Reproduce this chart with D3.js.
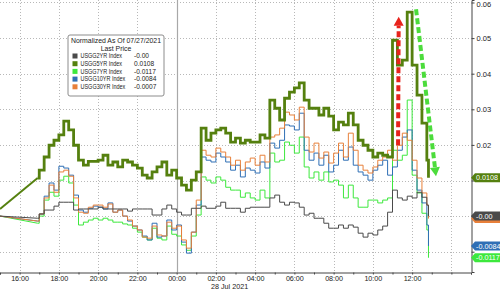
<!DOCTYPE html>
<html>
<head>
<meta charset="utf-8">
<script src="https://cdn.jsdelivr.net/npm/d3@7"></script>
<style>
  body { margin: 0; background: #fff; }
  svg { display: block; font-family: "Liberation Sans", Arial, sans-serif; }
</style>
</head>
<body>
<div id="chart"></div>
<script>
// gap-filled start, then 15 min bars 17:00 -> 12:45, then last print
const gapTimes = ["2021-07-27 15:00", "2021-07-27 16:55"];
const lastTime = "2021-07-28 12:50";

const seriesNames = ["USGG2YR Index", "USGG5YR Index", "USGG7YR Index", "USGG10YR Index", "USGG30YR Index"];
const lastLabels = ["-0.00", "0.0108", "-0.0117", "-0.0084", "-0.0007"];
const seriesColors = ["#4a4a4a", "#55800f", "#3de83d", "#2f6fb5", "#e8803a"];

const usgg2yr = [0, -0.0006,
  0.0006, 0.0017, 0.0017, 0.0028, 0.0039, 0.0039, 0.0039, 0.0017,
  0.0020, 0.0020, 0.0020, 0.0020, 0.0025, 0.0020, 0.0020, 0.0020,
  0.0020, 0.0020, 0.0014, 0.0020, 0.0020, 0.0020, 0.0020, 0.0003,
  0.0003, 0.0020, 0.0031, 0.0020, 0.0011, 0.0003, 0.0003, 0.0022,
  0.0022, 0.0028, 0.0022, 0.0022, 0.0028, 0.0039, 0.0022, 0.0022,
  0.0022, 0.0011, 0.0022, 0.0025, 0.0025, 0.0025, 0.0025, 0.0051,
  0.0059, 0.0039, 0.0031, 0.0039, 0.0037, 0.0025, 0.0003, 0.0008,
  -0.0006, -0.0006, -0.0020, -0.0034, -0.0034, -0.0025, -0.0034, -0.0025,
  -0.0031, -0.0048, -0.0059, -0.0048, -0.0053, -0.0039, -0.0028, 0.0011,
  0.0073, 0.0051, 0.0045, 0.0056, 0.0051, 0.0067, 0.0053, 0.0031,
  0.0000];

const usgg5yr = [0.0020, 0.0107,
  0.0129, 0.0166, 0.0199, 0.0213, 0.0228, 0.0267, 0.0242, 0.0199,
  0.0157, 0.0143, 0.0154, 0.0154, 0.0157, 0.0171, 0.0143, 0.0152,
  0.0138, 0.0157, 0.0152, 0.0143, 0.0135, 0.0115, 0.0107, 0.0124,
  0.0138, 0.0152, 0.0115, 0.0129, 0.0107, 0.0087, 0.0073, 0.0101,
  0.0124, 0.0247, 0.0213, 0.0233, 0.0242, 0.0247, 0.0233, 0.0208,
  0.0219, 0.0205, 0.0213, 0.0208, 0.0208, 0.0228, 0.0219, 0.0326,
  0.0303, 0.0270, 0.0331, 0.0348, 0.0360, 0.0374, 0.0326, 0.0303,
  0.0303, 0.0284, 0.0303, 0.0281, 0.0242, 0.0264, 0.0256, 0.0289,
  0.0256, 0.0213, 0.0199, 0.0185, 0.0166, 0.0177, 0.0171, 0.0166,
  0.0494, 0.0424, 0.0438, 0.0573, 0.0424, 0.0340, 0.0261, 0.0157,
  0.0108];

const usgg7yr = [0, -0.0020,
  0.0000, 0.0045, 0.0067, 0.0056, 0.0101, 0.0112, 0.0093, 0.0031,
  -0.0025, -0.0017, -0.0011, -0.0006, -0.0011, -0.0006, -0.0011, -0.0017,
  -0.0017, -0.0022, -0.0025, -0.0034, -0.0045, -0.0059, -0.0067, -0.0034,
  -0.0062, -0.0067, -0.0028, -0.0051, -0.0056, -0.0081, -0.0096, -0.0056,
  0.0003, 0.0110, 0.0101, 0.0093, 0.0110, 0.0101, 0.0081, 0.0073,
  0.0073, 0.0053, 0.0065, 0.0051, 0.0045, 0.0073, 0.0051, 0.0177,
  0.0152, 0.0157, 0.0208, 0.0199, 0.0177, 0.0222, 0.0138, 0.0107,
  0.0124, 0.0101, 0.0124, 0.0096, 0.0101, 0.0087, 0.0051, 0.0087,
  0.0051, 0.0025, 0.0025, 0.0045, 0.0045, 0.0037, 0.0045, 0.0051,
  0.0185, 0.0157, 0.0171, 0.0326, 0.0115, 0.0065, 0.0008, -0.0039,
  -0.0117];

const usgg10yr = [0, -0.0014,
  0.0006, 0.0056, 0.0093, 0.0073, 0.0140, 0.0135, 0.0115, 0.0059,
  0.0017, 0.0011, 0.0022, 0.0028, 0.0025, 0.0020, 0.0037, 0.0011,
  0.0017, 0.0000, -0.0014, -0.0028, -0.0039, -0.0056, -0.0067, -0.0020,
  -0.0059, -0.0056, -0.0011, -0.0039, -0.0025, -0.0073, -0.0104, -0.0045,
  0.0031, 0.0166, 0.0157, 0.0152, 0.0177, 0.0166, 0.0152, 0.0129,
  0.0143, 0.0110, 0.0135, 0.0129, 0.0121, 0.0152, 0.0135, 0.0205,
  0.0191, 0.0213, 0.0256, 0.0253, 0.0242, 0.0289, 0.0185, 0.0157,
  0.0177, 0.0143, 0.0171, 0.0124, 0.0143, 0.0185, 0.0157, 0.0194,
  0.0143, 0.0124, 0.0115, 0.0101, 0.0129, 0.0143, 0.0157, 0.0115,
  0.0138, 0.0185, 0.0222, 0.0242, 0.0129, 0.0073, 0.0037, -0.0025,
  -0.0084];

const usgg30yr = [0, -0.0014,
  0.0006, 0.0051, 0.0087, 0.0067, 0.0124, 0.0129, 0.0112, 0.0051,
  0.0011, 0.0008, 0.0025, 0.0031, 0.0031, 0.0025, 0.0034, 0.0011,
  0.0017, 0.0000, -0.0011, -0.0028, -0.0039, -0.0059, -0.0062, -0.0028,
  -0.0053, -0.0056, -0.0017, -0.0034, -0.0028, -0.0067, -0.0090, -0.0045,
  0.0045, 0.0185, 0.0171, 0.0166, 0.0191, 0.0180, 0.0166, 0.0143,
  0.0157, 0.0129, 0.0152, 0.0163, 0.0143, 0.0171, 0.0152, 0.0222,
  0.0228, 0.0247, 0.0292, 0.0284, 0.0270, 0.0306, 0.0222, 0.0180,
  0.0205, 0.0163, 0.0180, 0.0149, 0.0177, 0.0205, 0.0166, 0.0233,
  0.0185, 0.0143, 0.0129, 0.0121, 0.0138, 0.0157, 0.0166, 0.0185,
  0.0157, 0.0199, 0.0233, 0.0213, 0.0157, 0.0107, 0.0065, 0.0031,
  -0.0007];

const yTicks = [-0.01, 0, 0.01, 0.02, 0.03, 0.04, 0.05, 0.06];
// labels hidden behind the last-price tags in the original
const yTickLabels = ["", "", "", "0.02", "0.03", "0.04", "0.05", "0.06"];

// arrows drawn on the chart: [time, value] -> [time, value]
const redArrow = [["2021-07-28 11:17", 0.0199], ["2021-07-28 11:19", 0.0560]];
const greenArrow = [["2021-07-28 12:12", 0.0581], ["2021-07-28 13:13", 0.0112]];

const parse = d3.timeParse("%Y-%m-%d %H:%M");
const gridTimes = d3.timeMinute.every(15).range(parse("2021-07-27 17:00"), parse("2021-07-28 12:46"));
const times = gapTimes.map(parse).concat(gridTimes, [parse(lastTime)]);

const allSeries = [usgg2yr, usgg5yr, usgg7yr, usgg10yr, usgg30yr];

const width = 500, height = 289;
const plotRight = 471, plotBottom = 272;

const svg = d3.select("#chart").append("svg")
  .attr("width", width)
  .attr("height", height);

const x = d3.scaleTime()
  .domain([parse("2021-07-27 15:00"), parse("2021-07-28 15:00")])
  .range([0, plotRight]);

const y = d3.scaleLinear()
  .domain([-0.0157, 0.0607])
  .range([plotBottom, 0]);

// grid
const hourTicks = d3.timeHour.every(2).range(parse("2021-07-27 16:00"), parse("2021-07-28 15:00"));
svg.append("g").selectAll("line")
  .data(hourTicks.filter(d => d.getHours() !== 0))
  .join("line")
  .attr("x1", d => Math.round(x(d)) + 0.5).attr("x2", d => Math.round(x(d)) + 0.5)
  .attr("y1", 0).attr("y2", plotBottom)
  .attr("stroke", "#b8b8b8").attr("stroke-dasharray", "1,2");

svg.append("g").selectAll("line")
  .data(yTicks)
  .join("line")
  .attr("x1", 0).attr("x2", plotRight)
  .attr("y1", d => Math.round(y(d)) + 0.5).attr("y2", d => Math.round(y(d)) + 0.5)
  .attr("stroke", "#b8b8b8").attr("stroke-dasharray", "1,2");

// day boundary
svg.append("line")
  .attr("x1", Math.round(x(parse("2021-07-28 00:00"))) + 0.5)
  .attr("x2", Math.round(x(parse("2021-07-28 00:00"))) + 0.5)
  .attr("y1", 0).attr("y2", plotBottom)
  .attr("stroke", "#a8a8a8").attr("stroke-width", 1.2);

// lines: linear across the gap, stepped afterwards
const drawOrder = [2, 3, 4, 0, 1];
const gapLine = d3.line().x(d => x(d[0])).y(d => y(d[1]));
const stepLine = d3.line().x(d => x(d[0])).y(d => y(d[1])).curve(d3.curveStepAfter);

drawOrder.forEach(k => {
  const pts = times.map((t, i) => [t, allSeries[k][i]]);
  const w = k === 1 ? 2.8 : 1;
  svg.append("path")
    .attr("d", gapLine(pts.slice(0, 2)))
    .attr("fill", "none").attr("stroke", seriesColors[k]).attr("stroke-width", k === 1 ? 2 : 1);
  svg.append("path")
    .attr("d", stepLine(pts.slice(1)))
    .attr("fill", "none").attr("stroke", seriesColors[k]).attr("stroke-width", w)
    .attr("stroke-linejoin", "miter");
});

// arrows
function arrow(pair, color) {
  const [a, b] = pair.map(p => [x(parse(p[0])), y(p[1])]);
  const ang = Math.atan2(b[1] - a[1], b[0] - a[0]);
  const head = 9, hw = 5;
  const bx = b[0] - head * Math.cos(ang), by = b[1] - head * Math.sin(ang);
  svg.append("line")
    .attr("x1", a[0]).attr("y1", a[1]).attr("x2", bx).attr("y2", by)
    .attr("stroke", color).attr("stroke-width", 4).attr("stroke-dasharray", "6,3");
  const px = -Math.sin(ang), py = Math.cos(ang);
  svg.append("path")
    .attr("d", `M${b[0]},${b[1]}L${bx + px * hw},${by + py * hw}L${bx - px * hw},${by - py * hw}Z`)
    .attr("fill", color);
}
arrow(redArrow, "#e8231c");
arrow(greenArrow, "#4cdc3c");

// axes
const yAxis = svg.append("g")
  .attr("transform", `translate(${plotRight + 0.5},0)`)
  .call(d3.axisRight(y).tickValues(yTicks).tickFormat((d, i) => yTickLabels[i]).tickSize(3).tickPadding(2));
yAxis.select(".domain").attr("stroke", "#444");
yAxis.selectAll(".tick line").attr("stroke", "#444");
yAxis.selectAll("text").attr("font-size", 7.5).attr("fill", "#222").attr("font-family", null)
  .attr("dy", (d, i) => i === yTicks.length - 1 ? "0.55em" : "0.32em");

const xAxis = svg.append("g")
  .attr("transform", `translate(0,${plotBottom + 0.5})`)
  .call(d3.axisBottom(x).ticks(d3.timeHour.every(1)).tickSize(2)
    .tickFormat(d => d.getHours() % 2 === 0 && d.getHours() !== 14 ? d3.timeFormat("%H:%M")(d) : ""));
xAxis.select(".domain").attr("stroke", "#444");
xAxis.selectAll(".tick line").attr("stroke", "#444");
xAxis.selectAll("text").attr("font-size", 7.2).attr("fill", "#222").attr("font-family", null)
  .attr("y", 3).attr("dy", "0.71em");

svg.append("text")
  .attr("x", x(parse("2021-07-28 02:42"))).attr("y", 288.5)
  .attr("text-anchor", "middle").attr("font-size", 7.2).attr("fill", "#222")
  .text("28 Jul 2021");

// last price tags (the 30yr tag sits under the 2yr tag, only its edge shows)
const tagOrder = [4, 0, 1, 3, 2];
tagOrder.forEach(k => {
  const s = allSeries[k];
  const cy = y(s[s.length - 1]);
  const g = svg.append("g");
  g.append("path")
    .attr("d", `M${plotRight},${cy}L${plotRight + 4},${cy - 4.5}L${width},${cy - 4.5}L${width},${cy + 4.5}L${plotRight + 4},${cy + 4.5}Z`)
    .attr("fill", seriesColors[k]);
  if (k !== 4) {
    g.append("text")
      .attr("x", plotRight + 5).attr("y", cy + 2.6)
      .attr("font-size", 7.2).attr("fill", "#fff")
      .text(lastLabels[k]);
  }
});

// legend
const lg = svg.append("g").attr("transform", "translate(68,35)");
lg.append("rect")
  .attr("width", 96).attr("height", 61).attr("rx", 2)
  .attr("fill", "#fff").attr("stroke", "#8c8c8c");
lg.append("text").attr("x", 48).attr("y", 8).attr("text-anchor", "middle")
  .attr("font-size", 6.9).attr("fill", "#222").text("Normalized As Of 07/27/2021");
lg.append("text").attr("x", 48).attr("y", 15.5).attr("text-anchor", "middle")
  .attr("font-size", 6.9).attr("fill", "#222").text("Last Price");
seriesNames.forEach((name, i) => {
  const row = lg.append("g").attr("transform", `translate(0,${18 + i * 7.7})`);
  row.append("rect").attr("x", 4.5).attr("y", 0.5).attr("width", 5).attr("height", 5)
    .attr("fill", seriesColors[i]);
  row.append("text").attr("x", 12.5).attr("y", 5.3)
    .attr("font-size", 6.6).attr("fill", "#222")
    .attr("textLength", name.length * 3.2).attr("lengthAdjust", "spacingAndGlyphs")
    .text(name);
  row.append("text").attr("x", 66).attr("y", 5.3)
    .attr("font-size", 6.6).attr("fill", "#222").text(lastLabels[i]);
});
</script>
</body>
</html>
